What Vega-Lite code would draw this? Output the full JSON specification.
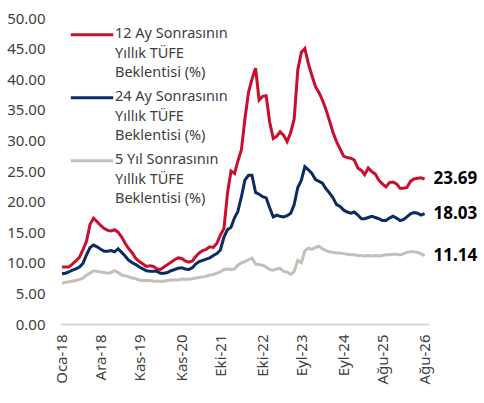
{
  "$schema": "https://vega.github.io/schema/vega-lite/v6.json",
  "width": 369,
  "height": 306,
  "autosize": "none",
  "padding": {"left": 60, "top": 18, "right": 55, "bottom": 79},
  "background": "white",
  "data": {
    "format": {"parse": {"d": "date:'%Y-%m'"}},
    "values": [
      {"d": "2018-01", "a": 9.3, "b": 8.2, "c": 6.7},
      {"d": "2018-02", "a": 9.3, "b": 8.3, "c": 6.8},
      {"d": "2018-03", "a": 9.3, "b": 8.5, "c": 6.9},
      {"d": "2018-04", "a": 9.8, "b": 8.8, "c": 7.0},
      {"d": "2018-05", "a": 10.3, "b": 9.0, "c": 7.1},
      {"d": "2018-06", "a": 10.9, "b": 9.3, "c": 7.3},
      {"d": "2018-07", "a": 12.1, "b": 9.9, "c": 7.5},
      {"d": "2018-08", "a": 13.5, "b": 11.3, "c": 8.0},
      {"d": "2018-09", "a": 16.3, "b": 12.5, "c": 8.3},
      {"d": "2018-10", "a": 17.3, "b": 12.9, "c": 8.7},
      {"d": "2018-11", "a": 16.7, "b": 12.6, "c": 8.6},
      {"d": "2018-12", "a": 16.1, "b": 12.2, "c": 8.5},
      {"d": "2019-01", "a": 15.6, "b": 11.9, "c": 8.4},
      {"d": "2019-02", "a": 15.3, "b": 11.9, "c": 8.3},
      {"d": "2019-03", "a": 15.2, "b": 12.0, "c": 8.4},
      {"d": "2019-04", "a": 15.4, "b": 11.8, "c": 8.7},
      {"d": "2019-05", "a": 15.0, "b": 12.3, "c": 8.4},
      {"d": "2019-06", "a": 14.2, "b": 11.7, "c": 8.0},
      {"d": "2019-07", "a": 13.2, "b": 11.1, "c": 7.9},
      {"d": "2019-08", "a": 12.3, "b": 10.4, "c": 7.7},
      {"d": "2019-09", "a": 11.6, "b": 10.0, "c": 7.5},
      {"d": "2019-10", "a": 10.7, "b": 9.7, "c": 7.4},
      {"d": "2019-11", "a": 10.2, "b": 9.3, "c": 7.2},
      {"d": "2019-12", "a": 9.8, "b": 9.0, "c": 7.1},
      {"d": "2020-01", "a": 9.4, "b": 8.7, "c": 7.1},
      {"d": "2020-02", "a": 9.5, "b": 8.6, "c": 7.1},
      {"d": "2020-03", "a": 9.4, "b": 8.6, "c": 7.0},
      {"d": "2020-04", "a": 9.0, "b": 8.6, "c": 7.0},
      {"d": "2020-05", "a": 8.9, "b": 8.3, "c": 7.0},
      {"d": "2020-06", "a": 9.3, "b": 8.3, "c": 7.0},
      {"d": "2020-07", "a": 9.7, "b": 8.4, "c": 7.1},
      {"d": "2020-08", "a": 10.1, "b": 8.7, "c": 7.2},
      {"d": "2020-09", "a": 10.5, "b": 8.9, "c": 7.2},
      {"d": "2020-10", "a": 10.8, "b": 9.1, "c": 7.2},
      {"d": "2020-11", "a": 10.7, "b": 9.2, "c": 7.3},
      {"d": "2020-12", "a": 10.3, "b": 9.0, "c": 7.3},
      {"d": "2021-01", "a": 10.1, "b": 8.9, "c": 7.3},
      {"d": "2021-02", "a": 10.3, "b": 9.2, "c": 7.4},
      {"d": "2021-03", "a": 11.0, "b": 9.8, "c": 7.5},
      {"d": "2021-04", "a": 11.6, "b": 10.2, "c": 7.6},
      {"d": "2021-05", "a": 12.0, "b": 10.4, "c": 7.7},
      {"d": "2021-06", "a": 12.2, "b": 10.6, "c": 7.8},
      {"d": "2021-07", "a": 12.6, "b": 10.8, "c": 8.0},
      {"d": "2021-08", "a": 12.5, "b": 11.2, "c": 8.1},
      {"d": "2021-09", "a": 13.2, "b": 11.5, "c": 8.3},
      {"d": "2021-10", "a": 14.5, "b": 12.1, "c": 8.5},
      {"d": "2021-11", "a": 15.6, "b": 14.2, "c": 8.9},
      {"d": "2021-12", "a": 21.3, "b": 15.4, "c": 9.0},
      {"d": "2022-01", "a": 25.0, "b": 15.8, "c": 8.9},
      {"d": "2022-02", "a": 24.6, "b": 17.4, "c": 9.0},
      {"d": "2022-03", "a": 26.6, "b": 18.4, "c": 9.6},
      {"d": "2022-04", "a": 28.5, "b": 20.8, "c": 10.0},
      {"d": "2022-05", "a": 33.5, "b": 23.5, "c": 10.2},
      {"d": "2022-06", "a": 37.8, "b": 24.3, "c": 10.5},
      {"d": "2022-07", "a": 40.0, "b": 24.3, "c": 10.8},
      {"d": "2022-08", "a": 41.8, "b": 21.5, "c": 9.8},
      {"d": "2022-09", "a": 36.6, "b": 21.2, "c": 9.7},
      {"d": "2022-10", "a": 37.2, "b": 20.8, "c": 9.6},
      {"d": "2022-11", "a": 37.3, "b": 20.6, "c": 9.3},
      {"d": "2022-12", "a": 33.0, "b": 19.0, "c": 8.9},
      {"d": "2023-01", "a": 30.3, "b": 17.5, "c": 8.8},
      {"d": "2023-02", "a": 30.7, "b": 17.8, "c": 9.0},
      {"d": "2023-03", "a": 31.4, "b": 17.6, "c": 9.1},
      {"d": "2023-04", "a": 30.8, "b": 17.5, "c": 8.6},
      {"d": "2023-05", "a": 29.8, "b": 17.7, "c": 8.5},
      {"d": "2023-06", "a": 31.3, "b": 18.1, "c": 8.1},
      {"d": "2023-07", "a": 33.5, "b": 19.5, "c": 8.6},
      {"d": "2023-08", "a": 41.5, "b": 22.3, "c": 10.4},
      {"d": "2023-09", "a": 44.4, "b": 23.5, "c": 10.0},
      {"d": "2023-10", "a": 45.0, "b": 25.7, "c": 12.0},
      {"d": "2023-11", "a": 42.5, "b": 25.2, "c": 12.4},
      {"d": "2023-12", "a": 40.6, "b": 24.6, "c": 12.2},
      {"d": "2024-01", "a": 38.8, "b": 23.6, "c": 12.5},
      {"d": "2024-02", "a": 37.8, "b": 23.3, "c": 12.7},
      {"d": "2024-03", "a": 36.6, "b": 23.0, "c": 12.3},
      {"d": "2024-04", "a": 35.0, "b": 22.1, "c": 12.0},
      {"d": "2024-05", "a": 33.2, "b": 21.4, "c": 11.8},
      {"d": "2024-06", "a": 31.3, "b": 20.6, "c": 11.7},
      {"d": "2024-07", "a": 29.8, "b": 19.5, "c": 11.6},
      {"d": "2024-08", "a": 28.6, "b": 19.2, "c": 11.6},
      {"d": "2024-09", "a": 27.4, "b": 18.6, "c": 11.5},
      {"d": "2024-10", "a": 27.2, "b": 18.3, "c": 11.4},
      {"d": "2024-11", "a": 27.1, "b": 18.1, "c": 11.3},
      {"d": "2024-12", "a": 26.8, "b": 18.3, "c": 11.3},
      {"d": "2025-01", "a": 25.5, "b": 17.8, "c": 11.2},
      {"d": "2025-02", "a": 25.1, "b": 17.2, "c": 11.2},
      {"d": "2025-03", "a": 24.4, "b": 17.2, "c": 11.1},
      {"d": "2025-04", "a": 25.5, "b": 17.4, "c": 11.2},
      {"d": "2025-05", "a": 24.9, "b": 17.6, "c": 11.1},
      {"d": "2025-06", "a": 24.5, "b": 17.4, "c": 11.2},
      {"d": "2025-07", "a": 23.5, "b": 17.2, "c": 11.1},
      {"d": "2025-08", "a": 22.9, "b": 16.9, "c": 11.2},
      {"d": "2025-09", "a": 22.4, "b": 16.9, "c": 11.3},
      {"d": "2025-10", "a": 23.1, "b": 17.3, "c": 11.3},
      {"d": "2025-11", "a": 23.2, "b": 17.6, "c": 11.4},
      {"d": "2025-12", "a": 22.9, "b": 17.3, "c": 11.4},
      {"d": "2026-01", "a": 22.2, "b": 16.9, "c": 11.3},
      {"d": "2026-02", "a": 22.2, "b": 17.1, "c": 11.5},
      {"d": "2026-03", "a": 22.3, "b": 17.5, "c": 11.7},
      {"d": "2026-04", "a": 23.3, "b": 18.0, "c": 11.8},
      {"d": "2026-05", "a": 23.7, "b": 18.2, "c": 11.8},
      {"d": "2026-06", "a": 23.8, "b": 18.1, "c": 11.7},
      {"d": "2026-07", "a": 23.9, "b": 17.8, "c": 11.5},
      {"d": "2026-08", "a": 23.69, "b": 18.03, "c": 11.14}
    ]
  },
  "transform": [
    {"fold": ["a", "b", "c"], "as": ["seri", "deger"]}
  ],
  "encoding": {
    "x": {
      "field": "d",
      "type": "temporal",
      "title": null,
      "scale": {"domain": [{"year": 2017, "month": 12, "date": 15}, {"year": 2026, "month": 9, "date": 8}]},
      "axis": {
        "values": [
          {"year": 2018, "month": 1}, {"year": 2018, "month": 12}, {"year": 2019, "month": 11},
          {"year": 2020, "month": 11}, {"year": 2021, "month": 10}, {"year": 2022, "month": 10},
          {"year": 2023, "month": 9}, {"year": 2024, "month": 9}, {"year": 2025, "month": 8},
          {"year": 2026, "month": 8}
        ],
        "labelExpr": "['Oca','Şub','Mar','Nis','May','Haz','Tem','Ağu','Eyl','Eki','Kas','Ara'][month(datum.value)] + '-' + timeFormat(datum.value, '%y')",
        "labelAngle": 270,
        "labelPadding": 10,
        "ticks": false,
        "grid": false,
        "domainColor": "#D9D9D9",
        "domainWidth": 2,
        "labelOverlap": false
      }
    },
    "y": {
      "field": "deger",
      "type": "quantitative",
      "title": null,
      "scale": {"domain": [0, 50], "nice": false, "zero": true},
      "axis": {
        "values": [0, 5, 10, 15, 20, 25, 30, 35, 40, 45, 50],
        "format": ".2f",
        "domain": false,
        "ticks": false,
        "grid": false,
        "labelPadding": 15
      }
    },
    "color": {
      "field": "seri",
      "type": "nominal",
      "scale": {"domain": ["a", "b", "c"], "range": ["#C8102E", "#0C2B60", "#C4BFB9"]},
      "legend": {
        "title": null,
        "orient": "none",
        "legendX": 9,
        "legendY": -1,
        "symbolType": "M-1,-0.245H1",
        "symbolSize": 1800,
        "symbolStrokeWidth": 3,
        "labelLimit": 0,
        "labelBaseline": "top",
        "labelOffset": 0,
        "rowPadding": 0,
        "labelExpr": "datum.label == 'a' ? ['12 Ay Sonrasının', 'Yıllık TÜFE', 'Beklentisi (%)'] : datum.label == 'b' ? ['24 Ay Sonrasının', 'Yıllık TÜFE', 'Beklentisi (%)'] : ['5 Yıl Sonrasının', 'Yıllık TÜFE', 'Beklentisi (%)']",
        "encode": {"labels": {"update": {"dy": {"value": -13}}}}
      }
    }
  },
  "layer": [
    {
      "mark": {"type": "line", "strokeWidth": 3, "interpolate": "linear"}
    },
    {
      "transform": [
        {"joinaggregate": [{"op": "max", "field": "d", "as": "son"}]},
        {"filter": "time(datum.d) == time(datum.son)"}
      ],
      "mark": {"type": "text", "align": "left", "baseline": "middle", "dx": 9, "fontSize": 17, "fontWeight": "bold", "color": "#000000"},
      "encoding": {
        "text": {"field": "deger", "type": "quantitative", "format": ".2f"},
        "color": {"value": "#000000"}
      }
    }
  ],
  "config": {
    "font": "Noto Sans",
    "view": {"stroke": null},
    "axis": {"labelFontSize": 15, "labelColor": "#404040", "labelFont": "Noto Sans"},
    "legend": {"labelFontSize": 14.5, "labelColor": "#404040", "labelFont": "Noto Sans"},
    "style": {"guide-label": {"lineHeight": 19.5}}
  }
}
